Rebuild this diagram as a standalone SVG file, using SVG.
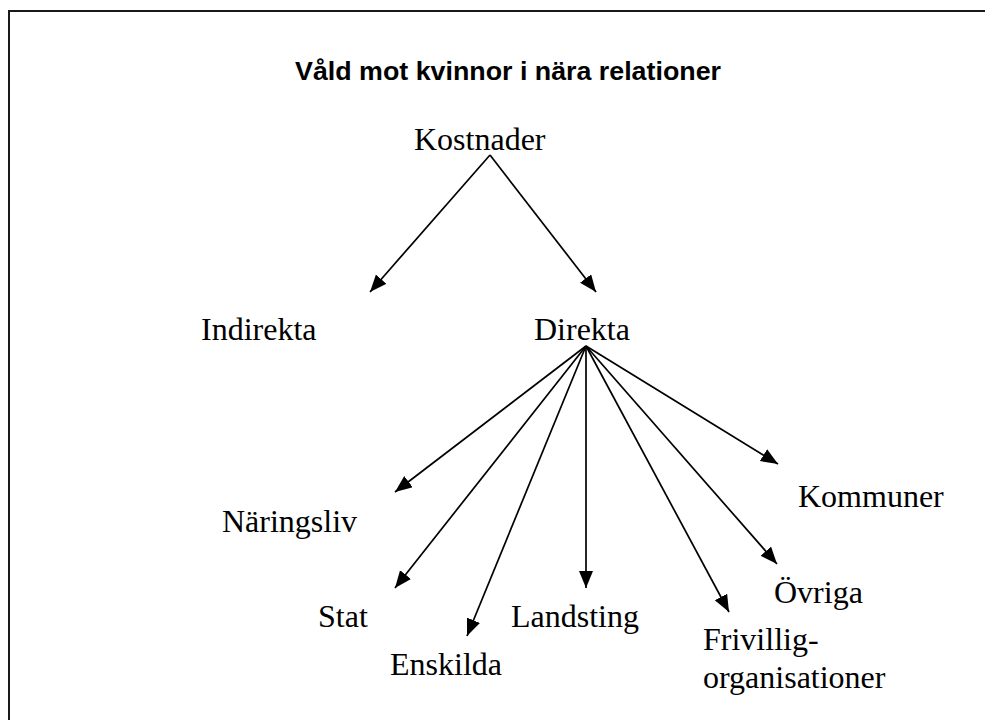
<svg xmlns="http://www.w3.org/2000/svg" width="985" height="720" viewBox="0 0 985 720">
  <style>
    .lbl { font-family: "Liberation Serif", "Times New Roman", serif; font-size: 32px; fill: #000; }
    .title { font-family: "Liberation Sans", Arial, sans-serif; font-size: 26px; font-weight: bold; fill: #000; }
    .edge { stroke: #000; stroke-width: 1.7; fill: none; marker-end: url(#arrow); }
    .frame { stroke: #1a1a1a; stroke-width: 2; fill: none; }
  </style>
  <defs>
    <marker id="arrow" markerUnits="userSpaceOnUse" markerWidth="18" markerHeight="15" refX="17" refY="7" orient="auto">
      <path d="M0,0 L17,7 L0,14 z" fill="#000"/>
    </marker>
  </defs>
  <rect width="985" height="720" fill="#fff"/>
  <path class="frame" d="M9,720 V11 H985"/>

  <g id="title">
    <text class="title" x="508" y="80" text-anchor="middle" textLength="426" lengthAdjust="spacingAndGlyphs">Våld mot kvinnor i nära relationer</text>
  </g>

  <g id="connectors">
    <line class="edge" x1="490" y1="155" x2="370" y2="292"/>
    <line class="edge" x1="490" y1="155" x2="596" y2="292"/>
    <line class="edge" x1="586" y1="346" x2="395" y2="492"/>
    <line class="edge" x1="586" y1="346" x2="395" y2="588"/>
    <line class="edge" x1="586" y1="346" x2="467" y2="636"/>
    <line class="edge" x1="586" y1="346" x2="586" y2="588"/>
    <line class="edge" x1="586" y1="346" x2="729" y2="612"/>
    <line class="edge" x1="586" y1="346" x2="777" y2="564"/>
    <line class="edge" x1="586" y1="346" x2="778" y2="464"/>
  </g>

  <g id="kostnader"><text class="lbl" x="414" y="150">Kostnader</text></g>
  <g id="indirekta"><text class="lbl" x="201" y="340">Indirekta</text></g>
  <g id="direkta"><text class="lbl" x="534" y="340">Direkta</text></g>
  <g id="naringsliv"><text class="lbl" x="222" y="532">Näringsliv</text></g>
  <g id="kommuner"><text class="lbl" x="798" y="507">Kommuner</text></g>
  <g id="stat"><text class="lbl" x="318" y="627">Stat</text></g>
  <g id="enskilda"><text class="lbl" x="390" y="675">Enskilda</text></g>
  <g id="landsting"><text class="lbl" x="511" y="627">Landsting</text></g>
  <g id="ovriga"><text class="lbl" x="774" y="603">Övriga</text></g>
  <g id="frivilligorganisationer">
    <text class="lbl" x="703" y="650">Frivillig-</text>
    <text class="lbl" x="703" y="688">organisationer</text>
  </g>
</svg>
